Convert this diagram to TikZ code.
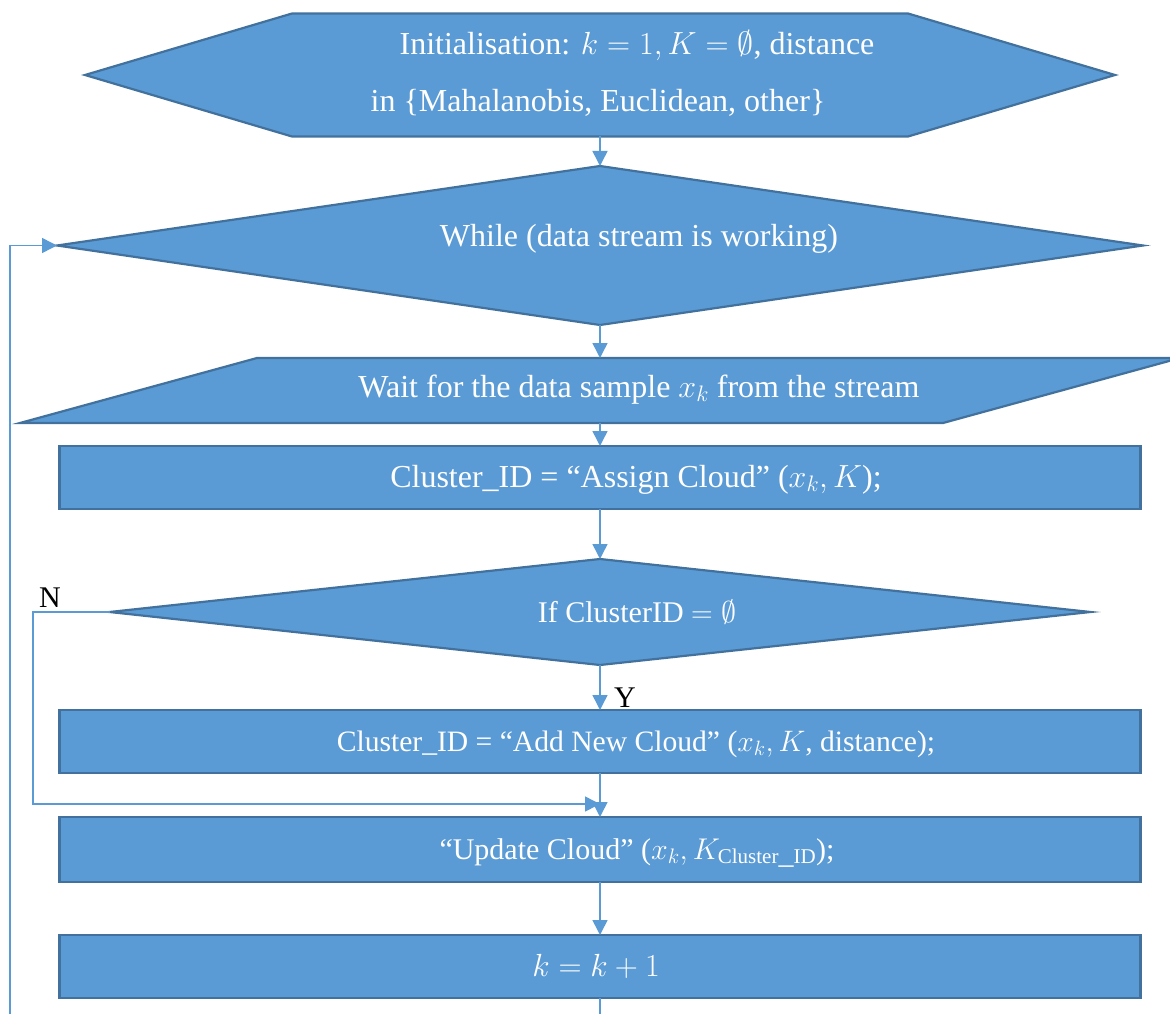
\RequirePackage{fix-cm}
\documentclass[tikz,border=0pt]{standalone}
\usepackage{fontspec}
\setmainfont{Liberation Serif}
\usetikzlibrary{arrows.meta,calc,shapes.geometric}
\definecolor{boxfill}{HTML}{5B9BD5}
\definecolor{boxline}{HTML}{41719C}
\definecolor{linkcol}{HTML}{5B9BD5}
\begin{document}
\begin{tikzpicture}[x=1pt,y=-1pt,
  shapebox/.style={fill=boxfill,draw=boxline,line width=2.2pt,line join=miter},
  frame/.style={inner sep=0pt,outer sep=0pt},
  stepbox/.style={shapebox,frame,rectangle,minimum width=1081pt,minimum height=63pt},
  decide/.style={shapebox,frame,diamond},
  txt/.style={text=white,font=\fontsize{32}{38}\selectfont,inner sep=0pt,anchor=base},
  smalltxt/.style={txt,font=\fontsize{30}{36}\selectfont},
  tag/.style={text=black,font=\fontsize{30}{36}\selectfont,inner sep=0pt,anchor=base},
  link/.style={draw=linkcol,line width=1.5pt,-{Triangle[length=15pt,width=15pt]}},
  plainlink/.style={draw=linkcol,line width=1.5pt}]
\useasboundingbox (0,0) rectangle (1170,1014);
\clip (0,0) rectangle (1170,1014);

% initialisation (hexagon)
\node[frame,minimum width=1030pt,minimum height=123pt] (init) at (600,75) {};
\path[shapebox] (init.west) -- ([xshift=207pt]init.north west) -- ([xshift=-207pt]init.north east)
  -- (init.east) -- ([xshift=-207pt]init.south east) -- ([xshift=207pt]init.south west) -- cycle;
\node[txt] (initA) at (637,55) {Initialisation: $k = 1, K = \emptyset$, distance};
\node[txt] (initB) at (598,112) {in \{Mahalanobis, Euclidean, other\}};

% main loop test
\node[decide,minimum width=1086pt,minimum height=159pt] (while) at (600,245.5) {};
\node[txt] (whileT) at (639,246) {While (data stream is working)};

% input (parallelogram)
\node[frame,minimum width=1160pt,minimum height=65pt] (wait) at (600,390.5) {};
\path[shapebox] (wait.south west) -- ([xshift=237pt]wait.north west) -- (wait.north east)
  -- ([xshift=-237pt]wait.south east) -- cycle;
\node[txt] (waitT) at (639,397) {Wait for the data sample $x_k$ from the stream};

% processing steps
\node[stepbox] (assign) at (600,477.5) {};
\node[txt] (assignT) at (636,487) {Cluster\_ID = “Assign Cloud” ($x_k, K$);};

\node[decide,minimum width=981pt,minimum height=106pt] (test) at (600,612) {};
\node[smalltxt] (testT) at (637,622) {If ClusterID $=\emptyset$};

\node[stepbox] (addnew) at (600,741.5) {};
\node[txt,font=\fontsize{29.6}{35}\selectfont] (addnewT) at (636,751) {Cluster\_ID = “Add New Cloud” ($x_k, K$, distance);};

\node[stepbox,minimum height=65pt] (update) at (600,849.5) {};
\node[smalltxt] (updateT) at (637,859) {“Update Cloud” ($x_k, K_{\mathrm{Cluster\_ID}}$);};

\node[stepbox] (incr) at (600,966.5) {};
\node[txt] (incrT) at (596,976) {$k = k + 1$};

% connectors
\coordinate (merge) at (600,804);
\coordinate (nleft) at (33,0);
\coordinate (exitpt) at (600,1014);
\coordinate (loopstart) at (10,1014);

\draw[link] (init.south) -- (while.north);
\draw[link] (while.south) -- (wait.north);
\draw[link] (wait.south) -- (assign.north);
\draw[link] (assign.south) -- (test.north);
\draw[link] (test.south) -- (addnew.north);
\draw[link] (addnew.south) -- (update.north);
\draw[link] (test.west) -- (test.west -| nleft) |- (merge);
\draw[link] (update.south) -- (incr.north);
\draw[plainlink] (incr.south) -- (exitpt);
\draw[link] (loopstart) |- (while.west);

% branch labels
\node[tag] (yes) at (625,707) {Y};
\node[tag] (no) at (50,607) {N};
\end{tikzpicture}
\end{document}
